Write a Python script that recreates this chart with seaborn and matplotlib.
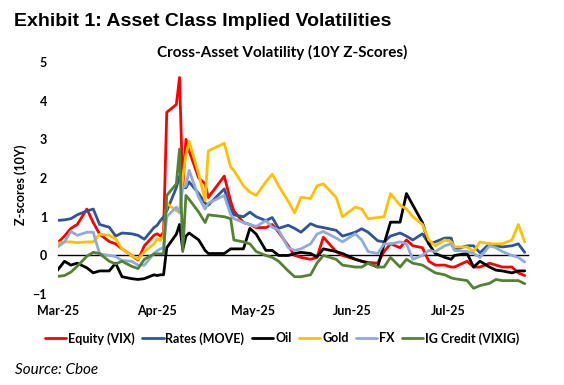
import pandas as pd
import seaborn as sns
import matplotlib.pyplot as plt
import matplotlib.dates as mdates

dates = ["2025-02-28", "2025-03-03", "2025-03-05", "2025-03-07", "2025-03-10", "2025-03-12",
         "2025-03-14", "2025-03-17", "2025-03-19", "2025-03-21", "2025-03-24", "2025-03-26",
         "2025-03-28", "2025-03-31",
         "2025-04-01", "2025-04-02", "2025-04-03", "2025-04-04", "2025-04-07", "2025-04-08",
         "2025-04-09", "2025-04-10", "2025-04-11", "2025-04-14", "2025-04-16", "2025-04-17",
         "2025-04-22", "2025-04-24", "2025-04-25", "2025-04-28", "2025-04-30",
         "2025-05-02", "2025-05-05", "2025-05-07", "2025-05-09", "2025-05-12", "2025-05-14",
         "2025-05-16", "2025-05-19", "2025-05-21", "2025-05-23", "2025-05-27", "2025-05-29",
         "2025-06-02", "2025-06-04", "2025-06-06", "2025-06-09", "2025-06-11", "2025-06-13",
         "2025-06-16", "2025-06-18", "2025-06-20", "2025-06-23", "2025-06-25", "2025-06-27",
         "2025-06-30",
         "2025-07-02", "2025-07-03", "2025-07-07", "2025-07-09", "2025-07-11", "2025-07-14",
         "2025-07-16", "2025-07-18", "2025-07-21", "2025-07-23", "2025-07-25"]

equity = [0.26, 0.5, 0.7, 0.8, 1.2, 0.85, 0.55, 0.36, 0.3, 0.17, 0.0, -0.12, 0.25, 0.52,
          0.56, 0.5, 0.6, 3.7, 3.9, 4.6, 1.75, 3.0, 2.7, 2.0, 1.85, 1.5, 2.05, 1.4, 1.15, 0.85, 0.8,
          0.72, 0.72, 0.8, 0.6, 0.25, 0.0, -0.05, -0.1, -0.05, 0.47, 0.1, 0.0,
          -0.1, -0.15, -0.18, -0.2, 0.1, 0.3, 0.2, 0.4, 0.25, 0.2, -0.15, -0.25, -0.25,
          -0.3, -0.3, -0.15, -0.3, -0.3, -0.2, -0.25, -0.3, -0.3, -0.45, -0.52]

rates = [0.9, 0.92, 0.95, 1.05, 1.15, 1.2, 0.8, 0.73, 0.5, 0.58, 0.56, 0.52, 0.42, 0.72,
         0.78, 0.9, 1.0, 1.15, 1.75, 2.05, 1.75, 1.75, 1.9, 1.6, 1.35, 1.3, 1.72, 1.2, 1.05, 1.0, 1.12,
         1.0, 0.9, 0.98, 0.7, 0.78, 0.7, 0.6, 0.82, 0.75, 0.72, 0.65, 0.5,
         0.6, 0.69, 0.6, 0.38, 0.35, 0.5, 0.58, 0.5, 0.4, 0.56, 0.3, 0.35, 0.45,
         0.45, 0.15, 0.25, 0.25, 0.07, 0.3, 0.25, 0.22, 0.25, 0.3, 0.08]

oil = [-0.47, -0.15, -0.25, -0.2, -0.32, -0.45, -0.4, -0.4, -0.2, -0.55, -0.6, -0.62, -0.6, -0.5,
       -0.52, -0.5, -0.5, 0.2, 0.55, 0.8, 0.15, 0.5, 0.58, 0.4, 0.13, 0.05, 0.05, 0.17, 0.17, 0.17, 0.7,
       0.55, 0.13, 0.13, 0.0, 0.0, 0.05, 0.08, 0.05, -0.04, 0.17, 0.1, 0.05,
       -0.1, -0.15, -0.2, -0.3, 0.3, 0.86, 0.86, 1.6, 1.3, 0.85, 0.3, 0.05, -0.05,
       -0.1, 0.0, 0.05, -0.3, -0.15, -0.3, -0.38, -0.4, -0.45, -0.4, -0.4]

gold = [0.3, 0.35, 0.35, 0.33, 0.35, 0.35, 0.55, 0.52, 0.43, 0.17, 0.0, -0.1, 0.1, 0.3,
        0.43, 0.39, 0.5, 1.35, 1.15, 1.15, 2.0, 2.6, 2.95, 2.1, 1.42, 2.7, 2.9, 2.28, 2.2, 1.8, 1.64,
        1.55, 1.9, 2.1, 1.8, 1.4, 1.1, 1.5, 1.47, 1.8, 1.85, 1.5, 1.0,
        1.25, 1.2, 0.95, 0.98, 1.0, 1.6, 1.3, 1.2, 1.0, 0.8, 0.4, 0.25, 0.4,
        0.35, 0.22, 0.22, 0.1, 0.35, 0.3, 0.3, 0.3, 0.4, 0.8, 0.35]

fx = [0.17, 0.35, 0.62, 0.52, 0.6, 0.6, 0.04, 0.0, -0.03, -0.13, -0.15, -0.25, -0.25, 0.05,
      0.12, 0.17, 0.2, 1.0, 1.25, 1.1, 1.75, 1.8, 2.2, 1.5, 1.2, 1.35, 1.55, 1.05, 0.95, 0.85, 0.8,
      0.75, 0.9, 0.73, 0.65, 0.2, 0.13, 0.17, 0.3, 0.55, 0.62, 0.45, 0.35,
      0.56, 0.4, 0.1, 0.05, 0.3, 0.3, 0.35, 0.3, -0.1, 0.0, 0.13, 0.1, 0.25,
      0.3, 0.13, 0.1, 0.05, -0.05, 0.25, 0.2, 0.1, 0.0, -0.05, -0.17]

ig_credit = [-0.55, -0.52, -0.43, -0.28, -0.02, 0.08, 0.05, -0.15, -0.22, -0.15, -0.28, -0.34, -0.1, 0.04,
             0.04, 0.04, 0.04, 1.55, 1.85, 2.75, 0.1, 1.55, 1.45, 1.12, 0.85, 1.05, 1.0, 0.95, 0.4, 0.35, 0.3,
             0.1, 0.0, -0.05, -0.15, -0.4, -0.55, -0.55, -0.5, -0.2, 0.0, -0.1, -0.25,
             -0.3, -0.3, -0.2, -0.3, -0.3, -0.05, -0.3, -0.1, -0.2, -0.25, -0.35, -0.45, -0.5,
             -0.58, -0.6, -0.65, -0.85, -0.78, -0.72, -0.62, -0.65, -0.65, -0.65, -0.73]

series_names = ["Equity (VIX)", "Rates (MOVE)", "Oil", "Gold", "FX", "IG Credit (VIXIG)"]
colors = ["#FF0000", "#2F5597", "#000000", "#FFC000", "#8FAADC", "#548235"]

df = pd.DataFrame({"Date": pd.to_datetime(dates),
                   "Equity (VIX)": equity, "Rates (MOVE)": rates, "Oil": oil,
                   "Gold": gold, "FX": fx, "IG Credit (VIXIG)": ig_credit})
long_df = df.melt(id_vars="Date", var_name="Series", value_name="Z")

sns.set_style("white")
plt.rcParams["font.family"] = ["Lato", "DejaVu Sans"]
plt.rcParams["text.color"] = "black"
plt.rcParams["axes.labelcolor"] = "black"
plt.rcParams["xtick.color"] = "black"
plt.rcParams["ytick.color"] = "black"

fig = plt.figure(figsize=(5.64, 3.85), dpi=100)
ax = fig.add_axes([0.103, 0.236, 0.833, 0.603])

sns.lineplot(data=long_df, x="Date", y="Z", hue="Series", hue_order=series_names,
             palette=colors, linewidth=2, errorbar=None, ax=ax)

ax.set_ylim(-1, 5)
ax.set_yticks(range(-1, 6))
ax.set_xlim(pd.Timestamp("2025-03-01"), pd.Timestamp("2025-07-26"))
ax.xaxis.set_major_locator(mdates.MonthLocator())
ax.xaxis.set_major_formatter(mdates.DateFormatter("%b-%y"))

for side in ["top", "right", "left"]:
    ax.spines[side].set_visible(False)
ax.spines["bottom"].set_position(("data", 0))
ax.spines["bottom"].set_color("black")
ax.spines["bottom"].set_linewidth(1)
ax.spines["bottom"].set_zorder(1)

ax.tick_params(axis="x", direction="out", length=3, width=0.8, color="#555555", pad=33,
               labelsize=9)
ax.tick_params(axis="y", length=0, pad=8, labelsize=9)
for lab in ax.get_xticklabels() + ax.get_yticklabels():
    lab.set_fontweight("bold")

ax.set_xlabel("")
ax.set_ylabel("Z-scores (10Y)", fontsize=9, fontweight="bold")
ax.yaxis.set_label_coords(-0.066, 0.47)

sns.move_legend(ax, "center", bbox_to_anchor=(0.477, -0.19), ncol=6, frameon=False, title=None,
                handlelength=1.7, handletextpad=0.15, columnspacing=0.6,
                prop={"weight": "bold", "size": 9})

fig.text(0.025, 0.945, "Exhibit 1: Asset Class Implied Volatilities", fontsize=14,
         fontweight="bold", family=["Liberation Sans", "DejaVu Sans"], va="center")
fig.text(0.5, 0.865, "Cross-Asset Volatility (10Y Z-Scores)", fontsize=11,
         fontweight="bold", ha="center", va="center")
fig.text(0.027, 0.039, "Source: Cboe", fontsize=11, style="italic", va="center")

fig.savefig("out.png", dpi=100)
